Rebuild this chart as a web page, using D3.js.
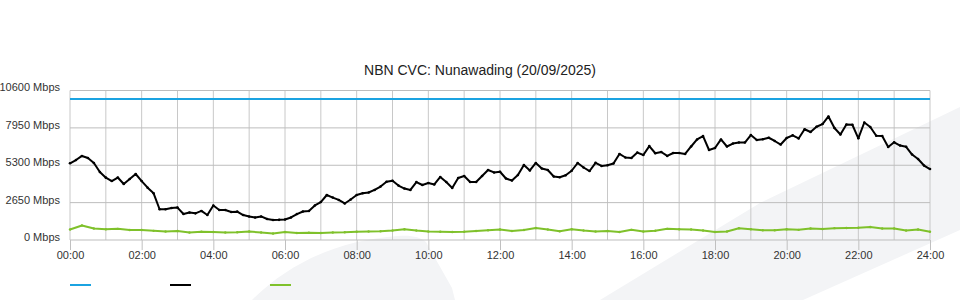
<!DOCTYPE html>
<html>
<head>
<meta charset="utf-8">
<script src="https://cdn.jsdelivr.net/npm/d3@7"></script>
<style>
  body { margin: 0; background: #fff; }
  svg { display: block; font-family: "Liberation Sans", Arial, sans-serif; }
</style>
</head>
<body>
<div id="chart"></div>
<script>
// NBN CVC utilisation for one day, samples every 10 / 20 minutes

const title = "NBN CVC: Nunawading (20/09/2025)";
const yTicks = [0, 2650, 5300, 7950, 10600];
const xTickHours = [0, 2, 4, 6, 8, 10, 12, 14, 16, 18, 20, 22, 24];
const capacity = 10000;

// download, every 10 minutes from 00:00 to 24:00
const download = [
  5440, 5670, 5960, 5810, 5460, 4820, 4420, 4180, 4430, 3970,
  4320, 4680, 4180, 3710, 3310, 2180, 2180, 2270, 2300, 1840,
  1950, 1890, 2060, 1770, 2450, 2130, 2130, 1990, 2010, 1770,
  1670, 1600, 1670, 1490, 1420, 1430, 1450, 1600, 1840, 2020,
  2060, 2450, 2690, 3190, 3010, 2840, 2590, 2870, 3190, 3310,
  3370, 3550, 3790, 4130, 4200, 3860, 3650, 3550, 4110, 3900,
  4040, 3940, 4470, 4110, 3690, 4400, 4540, 4110, 4110, 4540,
  4960, 4790, 4840, 4360, 4220, 4610, 5320, 4930, 5460, 5070,
  4960, 4500, 4450, 4590, 4910, 5460, 5140, 4890, 5470, 5250,
  5300, 5420, 6100, 5850, 5810, 6200, 6030, 6660, 6150, 6240,
  5960, 6170, 6170, 6100, 6630, 7130, 7370, 6380, 6520, 7130,
  6630, 6840, 6910, 6910, 7440, 7090, 7140, 7250, 7020, 6770,
  7230, 7420, 7200, 7850, 7660, 8030, 8220, 8760, 7940, 7480,
  8190, 8170, 7210, 8330, 8010, 7390, 7370, 6590, 6930, 6700,
  6610, 6060, 5740, 5280, 5030
];

// upload, every 20 minutes
const upload = [
  740, 1030, 820, 760, 790, 710, 710, 650, 600, 640,
  530, 590, 570, 530, 550, 600, 530, 460, 570, 500,
  520, 500, 530, 550, 590, 600, 620, 670, 760, 670,
  600, 590, 570, 590, 640, 690, 740, 640, 710, 850,
  740, 620, 760, 670, 600, 640, 570, 720, 600, 660,
  790, 760, 740, 670, 570, 600, 830, 760, 690, 690,
  760, 720, 820, 780, 840, 850, 870, 920, 820, 820,
  670, 740, 590
];

const width = 960, height = 300;
const margin = {top: 90.5, right: 30, bottom: 60, left: 70};

const svg = d3.select("#chart").append("svg")
  .attr("width", width)
  .attr("height", height);

// light background shapes
svg.append("path")
  .attr("d", "M600,300 L760,203 L960,107 L960,230 L803,300 Z")
  .attr("fill", "#f3f4f6");
svg.append("path")
  .attr("d", "M252,300 C290,262 340,240 398,236 C412,235 420,237 426,242 L452,288 L455,300 Z")
  .attr("fill", "#f3f4f6");

const x = d3.scaleLinear()
  .domain([0, 24 * 60])
  .range([margin.left, width - margin.right]);
const y = d3.scaleLinear()
  .domain([0, 10600])
  .range([height - margin.bottom, margin.top]);

// grid
const grid = svg.append("g");
grid.selectAll("line.v")
  .data(d3.range(0, 25))
  .join("line")
  .attr("x1", d => x(d * 60)).attr("x2", d => x(d * 60))
  .attr("y1", y(10600)).attr("y2", y(0))
  .attr("stroke", "#c8c8c8");
grid.selectAll("line.h")
  .data(yTicks)
  .join("line")
  .attr("x1", x(0)).attr("x2", x(1440))
  .attr("y1", d => y(d)).attr("y2", d => y(d))
  .attr("stroke", "#bdbdbd");

// y axis labels
svg.append("g").selectAll("text")
  .data(yTicks)
  .join("text")
  .attr("x", 60)
  .attr("y", d => y(d) - 2)
  .attr("text-anchor", "end")
  .attr("dominant-baseline", "middle")
  .attr("font-size", 11)
  .attr("fill", "#333")
  .text(d => d + " Mbps");

// x axis
const xAxis = d3.axisBottom(x)
  .tickValues(xTickHours.map(h => h * 60))
  .tickSize(10)
  .tickFormat(d => String(d / 60).padStart(2, "0") + ":00");
const gx = svg.append("g")
  .attr("transform", `translate(0,${y(0)})`)
  .call(xAxis);
gx.select(".domain").remove();
gx.selectAll(".tick line").attr("stroke", "#c0c0c0");
gx.selectAll(".tick text")
  .attr("font-size", 11)
  .attr("font-family", "Liberation Sans, Arial, sans-serif")
  .attr("fill", "#333")
  .attr("dy", "0.55em");

// lines
function drawSeries(values, step, color, r) {
  const line = d3.line()
    .x((d, i) => x(i * step))
    .y(d => y(d));
  svg.append("path")
    .datum(values)
    .attr("d", line)
    .attr("fill", "none")
    .attr("stroke", color)
    .attr("stroke-width", 2)
    .attr("stroke-linejoin", "round");
  svg.append("g").selectAll("circle")
    .data(values)
    .join("circle")
    .attr("cx", (d, i) => x(i * step))
    .attr("cy", d => y(d))
    .attr("r", r)
    .attr("fill", color);
}

svg.append("line")
  .attr("x1", x(0)).attr("x2", x(1440))
  .attr("y1", y(capacity)).attr("y2", y(capacity))
  .attr("stroke", "#1ba3e1")
  .attr("stroke-width", 2);
drawSeries(upload, 20, "#7fc12b", 1.2);
drawSeries(download, 10, "#000", 1.3);

svg.append("text")
  .attr("x", 480)
  .attr("y", 75)
  .attr("text-anchor", "middle")
  .attr("font-size", 14)
  .attr("fill", "#222")
  .text(title);

// legend swatches
const legendColors = ["#1ba3e1", "#000", "#7fc12b"];
svg.append("g").selectAll("line")
  .data(legendColors)
  .join("line")
  .attr("x1", (d, i) => 70 + i * 100)
  .attr("x2", (d, i) => 91 + i * 100)
  .attr("y1", 285).attr("y2", 285)
  .attr("stroke", d => d)
  .attr("stroke-width", 2);
</script>
</body>
</html>
